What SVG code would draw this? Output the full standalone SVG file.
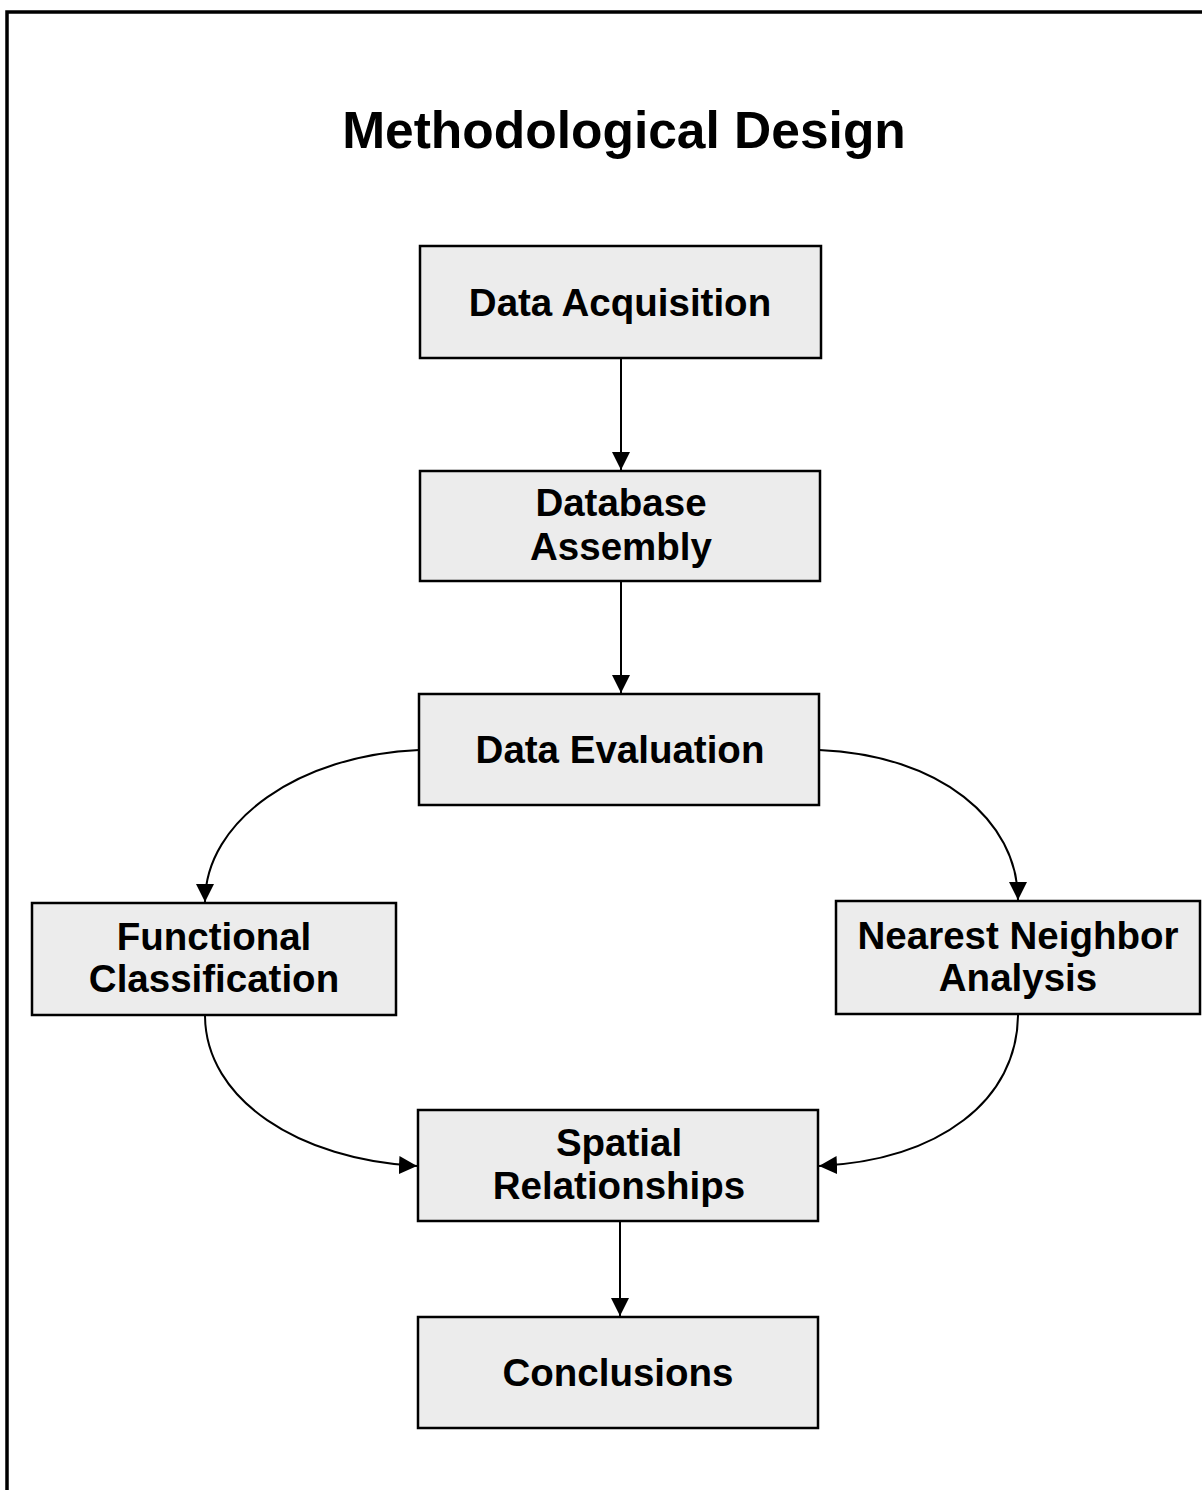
<svg xmlns="http://www.w3.org/2000/svg" width="1202" height="1490" viewBox="0 0 1202 1490">
<style>
.box{fill:#ececec;stroke:#000;stroke-width:2.5}
.t{font-family:"Liberation Sans",Arial,sans-serif;font-weight:bold;font-size:38.5px;text-anchor:middle;fill:#000}
.title{font-family:"Liberation Sans",Arial,sans-serif;font-weight:bold;font-size:51.5px;text-anchor:middle;fill:#000}
.c{fill:none;stroke:#000;stroke-width:2}
</style>
<defs>
<marker id="ah" viewBox="0 0 10 10" refX="10" refY="5" markerWidth="18" markerHeight="18" markerUnits="userSpaceOnUse" orient="auto">
<path d="M0,0 L10,5 L0,10 z" fill="#000"/>
</marker>
</defs>
<rect width="1202" height="1490" fill="#fff"/>
<path d="M7,1490 V12 H1202" fill="none" stroke="#000" stroke-width="3.5"/>
<text class="title" x="624" y="148">Methodological Design</text>
<g id="connectors">
<line class="c" x1="621" y1="358" x2="621" y2="470" marker-end="url(#ah)"/>
<line class="c" x1="621" y1="581" x2="621" y2="693" marker-end="url(#ah)"/>
<line class="c" x1="620" y1="1221" x2="620" y2="1316" marker-end="url(#ah)"/>
<path class="c" d="M419,750 C300,755 205,820 205,902" marker-end="url(#ah)"/>
<path class="c" d="M819,750 C940,755 1018,820 1018,900" marker-end="url(#ah)"/>
<path class="c" d="M205,1015 C205,1100 300,1160 417,1166" marker-end="url(#ah)"/>
<path class="c" d="M1018,1014 C1018,1100 940,1160 819,1166" marker-end="url(#ah)"/>
</g>
<g id="n1"><rect class="box" x="420" y="246" width="401" height="112"/><text class="t" x="620" y="316">Data Acquisition</text></g>
<g id="n2"><rect class="box" x="420" y="471" width="400" height="110"/><text class="t" x="621" y="516">Database</text><text class="t" x="621" y="560">Assembly</text></g>
<g id="n3"><rect class="box" x="419" y="694" width="400" height="111"/><text class="t" x="620" y="763">Data Evaluation</text></g>
<g id="n4"><rect class="box" x="32" y="903" width="364" height="112"/><text class="t" x="214" y="950">Functional</text><text class="t" x="214" y="992">Classification</text></g>
<g id="n5"><rect class="box" x="836" y="901" width="364" height="113"/><text class="t" x="1018" y="949">Nearest Neighbor</text><text class="t" x="1018" y="991">Analysis</text></g>
<g id="n6"><rect class="box" x="418" y="1110" width="400" height="111"/><text class="t" x="619" y="1156">Spatial</text><text class="t" x="619" y="1199">Relationships</text></g>
<g id="n7"><rect class="box" x="418" y="1317" width="400" height="111"/><text class="t" x="618" y="1386">Conclusions</text></g>
</svg>
